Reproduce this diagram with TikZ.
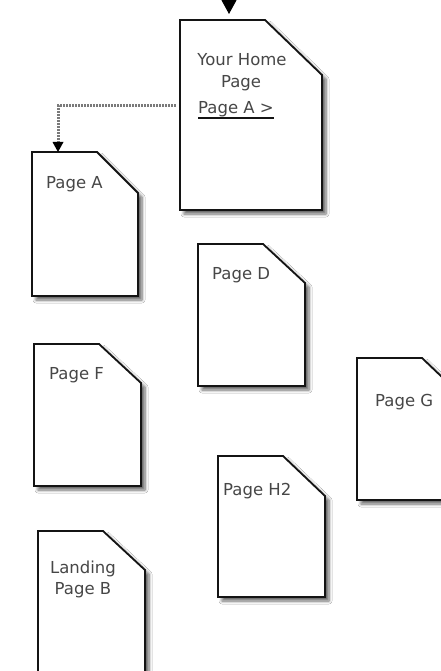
\documentclass[tikz,border=0pt]{standalone}
\usepackage{fontspec}
\setmainfont{DejaVu Sans}
\usetikzlibrary{arrows.meta,calc,shadows.blur}

\definecolor{inkgray}{HTML}{474747}
\definecolor{edge}{HTML}{141414}
\definecolor{dots}{HTML}{7A7A7A}

\tikzset{
  pagebox/.style={draw=none, inner sep=0pt, outer sep=0pt},
  pageline/.style={draw=edge, line width=1.8pt, fill=white, line join=miter,
    blur shadow={shadow xshift=4pt, shadow yshift=-4pt, shadow blur steps=6,
      shadow blur radius=3pt, shadow opacity=60}},
  pagetext/.style={text=inkgray, font=\fontsize{16.5}{22}\selectfont, inner sep=0pt},
  link/.style={draw=dots, line width=3pt, dash pattern=on 1.6pt off 1.4pt,
    -{Triangle[width=11pt,length=10pt,color=black,fill=black,line width=0pt]}},
  entry/.style={draw=black, line width=1pt,
    -{Triangle[width=15pt,length=14pt,fill=black]}},
}

% page outline with a folded top-right corner:
% name, left, top, width, height, corner width, corner height
\newcommand\docpage[7]{%
  \node[pagebox, minimum width=#4pt, minimum height=#5pt, anchor=north west] (#1) at (#2,#3) {};
  \path[pageline] (#1.north west) -- ([xshift=-#6pt]#1.north east)
    -- ([yshift=-#7pt]#1.north east) -- (#1.south east) -- (#1.south west) -- cycle;
}

\begin{document}
\begin{tikzpicture}[x=1pt, y=-1pt]
  \useasboundingbox[fill=white] (0,0) rectangle (441,671);

  \docpage{home}{180}{20}{142}{190}{57}{55}
  \docpage{pa}{32}{152}{106}{144}{41}{41}
  \docpage{pd}{198}{244}{107}{142}{42}{39}
  \docpage{pf}{34}{344}{107}{142}{42}{39}
  \docpage{pg}{357}{358}{107}{142}{42}{40}
  \docpage{ph}{218}{456}{107}{141}{42}{40}
  \docpage{pb}{38}{531}{107}{145}{42}{39}

  % page titles
  \node[pagetext, anchor=base] (t1) at (242,66) {Your Home};
  \node[pagetext, anchor=base] (t2) at (241,88) {Page};
  \node[pagetext, anchor=base] (lnk) at (236,114) {Page A >};
  \draw[edge, line width=1.6pt] (lnk.south west |- 0,118) coordinate (u1) -- (lnk.south east |- 0,118) coordinate (u2);
  \node[pagetext, anchor=base west] (ta) at (46,189) {Page A};
  \node[pagetext, anchor=base west] (td) at (212,279) {Page D};
  \node[pagetext, anchor=base west] (tf) at (49,379) {Page F};
  \node[pagetext, anchor=base west] (tg) at (375,406) {Page G};
  \node[pagetext, anchor=base west] (th) at (223,495) {Page H2};
  \node[pagetext, anchor=base] (tb1) at (83,573) {Landing};
  \node[pagetext, anchor=base] (tb2) at (83,594) {Page B};

  % connectors
  \coordinate (entrytop) at (229,-20);
  \draw[entry, shorten >=6pt] (entrytop) -- (entrytop |- home.north);
  \draw[link, shorten <=4pt] ($(home.north west)+(0,86)$) -| ($(pa.north west)+(26,0)$);
\end{tikzpicture}
\end{document}
